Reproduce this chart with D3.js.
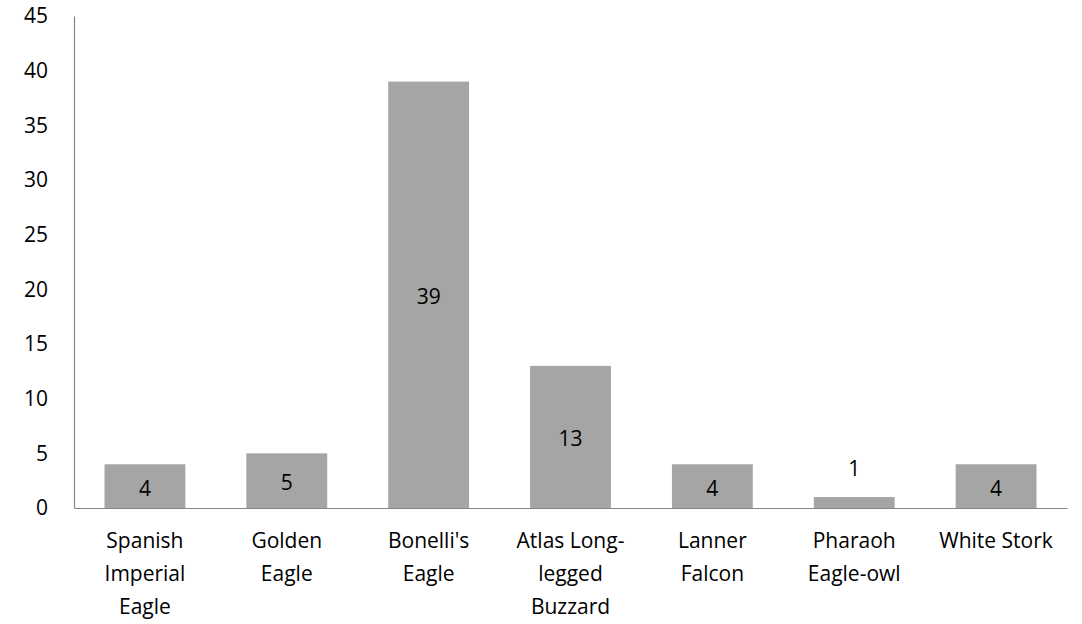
<!DOCTYPE html>
<html>
<head>
<meta charset="utf-8">
<script src="https://cdn.jsdelivr.net/npm/d3@7"></script>
<style>
  body { margin: 0; background: #fff; }
  text { font-family: "Open Sans", sans-serif; fill: #000; }
</style>
</head>
<body>
<script>
var categories = ["Spanish Imperial Eagle", "Golden Eagle", "Bonelli's Eagle", "Atlas Long-legged Buzzard", "Lanner Falcon", "Pharaoh Eagle-owl", "White Stork"];
var categoryLines = [["Spanish", "Imperial", "Eagle"], ["Golden", "Eagle"], ["Bonelli's", "Eagle"], ["Atlas Long-", "legged", "Buzzard"], ["Lanner", "Falcon"], ["Pharaoh", "Eagle-owl"], ["White Stork"]];
var values = [4, 5, 39, 13, 4, 1, 4];
var yTicks = [0, 5, 10, 15, 20, 25, 30, 35, 40, 45];

var w = 1082, h = 624;
var plotLeft = 74, plotRight = 1067, plotTop = 16, plotBottom = 508;

var svg = d3.select("body").append("svg")
  .attr("width", w)
  .attr("height", h);

var x = d3.scaleBand()
  .domain(categories)
  .range([plotLeft, plotRight])
  .paddingInner(0.43)
  .paddingOuter(0.215);

var y = d3.scaleLinear()
  .domain([0, 45])
  .range([plotBottom, plotTop]);

// bars
svg.selectAll("rect.bar")
  .data(values)
  .enter().append("rect")
  .attr("class", "bar")
  .attr("x", function(d, i) { return x(categories[i]); })
  .attr("y", function(d) { return y(d); })
  .attr("width", x.bandwidth())
  .attr("height", function(d) { return plotBottom - y(d); })
  .style("fill", "#a5a5a5");

// value labels, centred, or above when the bar is too short
svg.selectAll("text.val")
  .data(values)
  .enter().append("text")
  .attr("class", "val")
  .attr("x", function(d, i) { return x(categories[i]) + x.bandwidth() / 2; })
  .attr("y", function(d) {
    if (plotBottom - y(d) < 30) return y(d) - 29;
    return (y(d) + plotBottom) / 2 + 2;
  })
  .attr("dy", "0.36em")
  .attr("text-anchor", "middle")
  .style("font-size", "21px")
  .text(function(d) { return d; });

// y axis
var yAxis = svg.append("g")
  .attr("transform", "translate(" + plotLeft + ",0)")
  .call(d3.axisLeft(y).tickValues(yTicks).tickSize(0).tickPadding(26));
yAxis.select(".domain").attr("stroke", "#868686").attr("stroke-width", 1.2);
yAxis.selectAll("text").style("font-size", "21px").style("font-family", "'Open Sans', sans-serif").attr("fill", "#000");

// x axis
var xAxis = svg.append("g")
  .attr("transform", "translate(0," + plotBottom + ")")
  .call(d3.axisBottom(x).tickSize(0).tickFormat(""));
xAxis.select(".domain").attr("stroke", "#868686").attr("stroke-width", 1.2);

// category labels on several lines
var cat = svg.selectAll("text.cat")
  .data(categories)
  .enter().append("text")
  .attr("class", "cat")
  .attr("text-anchor", "middle")
  .style("font-size", "21px");

cat.each(function(c, i) {
  var t = d3.select(this);
  categoryLines[i].forEach(function(line, j) {
    t.append("tspan")
      .attr("x", x(c) + x.bandwidth() / 2)
      .attr("y", plotBottom + 40 + j * 33)
      .text(line);
  });
});
</script>
</body>
</html>
